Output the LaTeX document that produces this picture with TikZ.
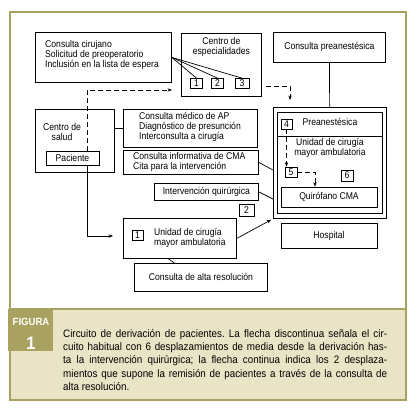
\documentclass[tikz,border=0pt]{standalone}
\usepackage{fontspec}
\setmainfont{Liberation Sans}
\newfontfamily\diagfont[FakeStretch=0.88]{Liberation Sans}
\newfontfamily\capfont[FakeStretch=0.91]{Liberation Sans}
\usepackage{xcolor}
\usetikzlibrary{arrows.meta,positioning,calc}
\definecolor{olive}{RGB}{169,161,95}
\definecolor{beige}{RGB}{233,228,198}
\newcommand{\dfont}{\diagfont\fontsize{9.8}{10}\selectfont}
\frenchspacing

\begin{document}
\begin{tikzpicture}[
    x=1pt, y=-1pt,
    box/.style={rectangle, draw, line width=0.8pt, inner sep=0pt, align=center, font=\dfont},
    numbox/.style={rectangle, draw, line width=0.7pt, inner sep=0pt, minimum width=12, minimum height=10, font=\dfont},
    txt/.style={inner sep=0pt, align=center, font=\dfont},
    link/.style={line width=0.7pt},
    arrow/.style={-{Stealth[length=4.5pt,width=3.4pt]}, line width=0.7pt},
    dasharrow/.style={arrow, dash pattern=on 5pt off 3pt},
]
\useasboundingbox (0,0) rectangle (418,411);
\fill[white] (0,0) rectangle (418,411);

% === FRAME AND CAPTION ===
\draw[olive, line width=1.2pt] (10,12) rectangle (406,400);
\filldraw[fill=beige, draw=olive, line width=1.2pt] (10,309) rectangle (406,400);
\node[fill=olive, minimum width=45, minimum height=42, inner sep=0pt] (figlabel) at (30.5,330) {};
\node[text=white, inner sep=0pt, font=\capfont\bfseries\fontsize{10.5}{11}\selectfont] (figword) at (31,322) {FIGURA};
\node[text=white, inner sep=0pt, font=\capfont\bfseries\fontsize{18}{18}\selectfont] (fignum) at (31,343) {1};
\node[anchor=north west, inner sep=0pt, text width=324, align=justify,
      font=\capfont\fontsize{10.8}{13.4}\selectfont] (caption) at (63,329)
  {Circuito de derivación de pacientes. La flecha discontinua señala el cir-\linebreak
   cuito habitual con 6 desplazamientos de media desde la derivación has-\linebreak
   ta la intervención quirúrgica; la flecha continua indica los 2 desplaza-\linebreak
   mientos que supone la remisión de pacientes a través de la consulta de\linebreak
   alta resolución.};

% === TOP ROW ===
\node[box, anchor=north west, minimum width=136, minimum height=50] (cirujano) at (35,32) {};
\node[txt, anchor=west, align=left] (cirujanolbl) at (45,55)
  {Consulta cirujano\\Solicitud de preoperatorio\\Inclusión en la lista de espera};
\node[box, anchor=north west, minimum width=80, minimum height=63] (espec) at (181,33) {};
\node[txt, below=4pt of espec.north] (especlbl) {Centro de\\especialidades};
\node[numbox] (n1) at (196.5,83.5) {1};
\node[numbox] (n2) at (217.5,83.5) {2};
\node[numbox, minimum width=14] (n3) at (242,83.5) {3};
\node[box, anchor=north west, minimum width=112, minimum height=30] (preconsulta) at (273,32) {Consulta preanestésica};

% === HEALTH CENTRE ===
\node[box, anchor=north west, minimum width=79, minimum height=63] (salud) at (35,109) {};
\node[txt] (saludlbl) at (62,132) {Centro de\\salud};
\node[box, minimum width=53, minimum height=14] (paciente) at (72.5,158) {Paciente};

% === CONSULTATIONS ===
\node[box, anchor=north west, minimum width=134, minimum height=38] (ap) at (123,109) {};
\node[txt, anchor=west, align=left] (aplbl) at (139,127)
  {Consulta médico de AP\\Diagnóstico de presunción\\Interconsulta a cirugía};
\node[box, anchor=north west, minimum width=135, minimum height=24] (info) at (123,150) {};
\node[txt, anchor=west, align=left] (infolbl) at (133,162)
  {Consulta informativa de CMA\\Cita para la intervención};
\node[box, anchor=north west, minimum width=104, minimum height=17] (interv) at (154,183) {Intervención quirúrgica};

% === HOSPITAL ===
\node[box, anchor=north west, minimum width=113, minimum height=111] (hospout) at (273,107) {};
\node[box, anchor=north west, minimum width=105, minimum height=101] (hospin) at (277,112) {};
\coordinate (divl) at (277,136);
\coordinate (divr) at (382,136);
\node[txt] (preanlbl) at (330,122) {Preanestésica};
\node[numbox, minimum width=11] (n4) at (286.5,124) {4};
\node[txt] (ucmalbl) at (330,148) {Unidad de cirugía\\mayor ambulatoria};
\node[numbox] (n5) at (291,172) {5};
\node[numbox, minimum height=11] (n6) at (347,175.5) {6};
\node[box, minimum width=96, minimum height=20] (quirofano) at (329,197) {Quirófano CMA};
\node[box, minimum width=96, minimum height=25] (hospital) at (329,235.5) {Hospital};

% === HIGH RESOLUTION ROUTE ===
\node[box, anchor=north west, minimum width=113, minimum height=40] (ucma) at (123,218) {};
\node[numbox, minimum width=11] (n1b) at (137.5,235) {1};
\node[txt, anchor=west, align=left] (ucmabl) at (154,238) {Unidad de cirugía\\mayor ambulatoria};
\node[numbox, minimum width=15, minimum height=12] (n2b) at (246.5,210) {2};
\node[box, anchor=north west, minimum width=133, minimum height=28] (alta) at (134,263) {Consulta de alta resolución};

% === LINKS ===
\foreach \n in {n1,n2,n3}
  \draw[link] (cirujano.east) -- (\n.north);
\draw[link] (preconsulta) -- (hospout);
\draw[link] (salud.east |- ap.west) -- (ap.west);
\draw[link] (info.east) -- (hospout.west |- 0,170);
\draw[link] (interv.east) -- (hospout.west |- 0,199);
\draw[link] (divl) -- (divr);
\draw[link] ([xshift=-11.5]ucma.south) -- ([xshift=-26.5]alta.north);

% === DASHED ROUTE ===
\coordinate (d1) at (172,90);
\coordinate (d2) at (266,86);
\coordinate (d3) at (290,100);
\draw[dasharrow] ([xshift=14.5]paciente.north) |- (d1);
\draw[dasharrow] (d2) -| (d3);
\draw[dasharrow] (n4.south) -- (n4.south |- n5.north);
\draw[dasharrow] (n5.east) -| ([xshift=-14]quirofano.north);

% === SOLID ROUTE ===
\coordinate (s1) at (113,236);
\draw[arrow] ([xshift=14.5]paciente.south) |- (s1);
\draw[arrow, shorten >=2pt] (ucma.east) -- (hospout.south west);

\end{tikzpicture}
\end{document}
